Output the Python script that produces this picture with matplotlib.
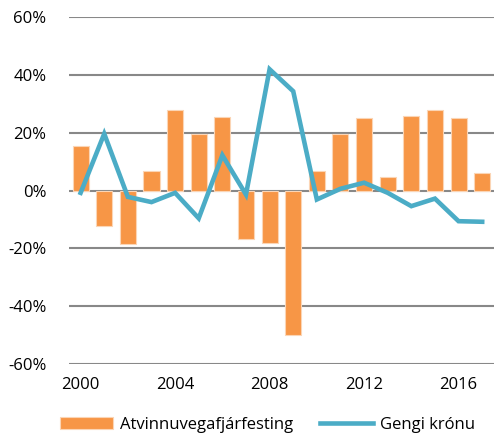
import matplotlib
matplotlib.use("Agg")
import matplotlib.pyplot as plt
import numpy as np

years = list(range(2000, 2018))
fjarfesting = [15.5, -12.1, -18.4, 6.8, 27.8, 19.4, 25.5, -16.6, -18.1, -49.8,
               6.8, 19.4, 25.1, 4.7, 25.6, 27.7, 24.9, 6.1]
gengi = [-0.8, 19.6, -2.2, -4.0, -0.8, -9.6, 12.2, -1.4, 41.9, 34.3,
         -3.1, 0.6, 2.7, -0.8, -5.4, -2.8, -10.6, -10.8]
yticks = [-60, -40, -20, 0, 20, 40, 60]
xtick_years = [2000, 2004, 2008, 2012, 2016]

plt.rcParams['font.family'] = ['Open Sans', 'DejaVu Sans']

fig = plt.figure(figsize=(4.95, 4.33), dpi=100)
ax = fig.add_axes([0.139, 0.159, 0.859, 0.802])

x = np.arange(len(years))
ax.set_axisbelow(True)
for yt in yticks:
    ax.axhline(yt, color='#888888', lw=1.5, zorder=0)
bars = ax.bar(x, fjarfesting, width=0.68, color='#F79646', edgecolor='#FBD5B5',
              linewidth=0.8, zorder=2, label='Atvinnuvegafjárfesting')
line, = ax.plot(x, gengi, color='#4BACC6', lw=3.3, zorder=3, label='Gengi krónu',
                solid_joinstyle='miter')

ax.set_xlim(-0.5, len(years) - 0.5)
ax.set_ylim(-60, 60)
ax.set_yticks(yticks)
ax.set_yticklabels([f'{v}%' for v in yticks])
ax.set_xticks([years.index(y) for y in xtick_years])
ax.set_xticklabels([str(y) for y in xtick_years])
ax.tick_params(axis='both', length=0, labelsize=12, colors='#000000')
ax.tick_params(axis='y', pad=16)
ax.tick_params(axis='x', pad=9)
for s in ax.spines.values():
    s.set_visible(False)

fig.legend(handles=[bars, line], loc='lower center', bbox_to_anchor=(0.54, -0.035),
           ncol=2, frameon=False, fontsize=12, handlelength=3.2, handleheight=0.7,
           columnspacing=1.6, handletextpad=0.4)

fig.savefig('out.png', dpi=100)
